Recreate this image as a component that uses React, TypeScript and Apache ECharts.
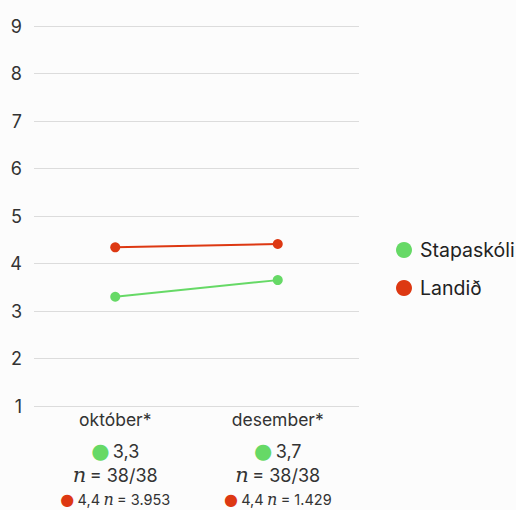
import React, { useEffect, useRef } from "react";
import * as echarts from "echarts";

const categories = ["október*", "desember*"];
const schoolName = "Stapaskóli";
const countryName = "Landið";
const schoolValues = [3.3, 3.65];
const countryValues = [4.34, 4.41];
const schoolLabels = ["3,3", "3,7"];
const schoolN = ["38/38", "38/38"];
const countryLabels = ["4,4", "4,4"];
const countryN = ["3.953", "1.429"];

const GREEN = "#66d966";
const RED = "#dd3812";
const FONT = "Inter, 'Noto Sans', sans-serif";

export default function App() {
  const ref = useRef<HTMLDivElement>(null);
  useEffect(() => {
    if (!ref.current) return;
    const chart = echarts.init(ref.current, undefined, { renderer: "svg" });
    chart.setOption({
      animation: false,
      backgroundColor: "#fcfcfc",
      textStyle: { fontFamily: FONT },
      grid: { left: 34, right: 157, top: 26, bottom: 104, containLabel: false },
      legend: {
        orient: "vertical",
        left: 391,
        top: 235,
        icon: "circle",
        itemWidth: 16,
        itemHeight: 16,
        itemGap: 18,
        textStyle: { fontSize: 19.5, lineHeight: 20, color: "#222", fontFamily: FONT, padding: [0, 0, 0, 3] },
        data: [schoolName, countryName],
      },
      xAxis: {
        type: "category",
        data: categories,
        axisLine: { show: false },
        axisTick: { show: false },
        axisLabel: {
          margin: -7,
          interval: 0,
          formatter: (v: string, i: number) =>
            `{t|${v}}\n{g|●} {v|${schoolLabels[i]}}\n{n|n} {v|= ${schoolN[i]}}\n{r|●} {s|${countryLabels[i]}} {sn|n} {s|= ${countryN[i]}}`,
          rich: {
            t: { fontSize: 17.5, color: "#333", lineHeight: 40, fontFamily: FONT },
            g: { fontSize: 21, color: GREEN, lineHeight: 24, fontFamily: "DejaVu Sans" },
            v: { fontSize: 18, color: "#333", lineHeight: 24, fontFamily: FONT },
            n: { fontSize: 21, color: "#333", lineHeight: 24, fontStyle: "italic", fontFamily: "DejaVu Serif" },
            r: { fontSize: 16, color: RED, lineHeight: 24, fontFamily: "DejaVu Sans" },
            s: { fontSize: 14.5, color: "#333", lineHeight: 24, fontFamily: FONT },
            sn: { fontSize: 16, color: "#333", lineHeight: 24, fontStyle: "italic", fontFamily: "DejaVu Serif" },
          },
        },
      },
      yAxis: {
        type: "value",
        min: 1,
        max: 9,
        interval: 1,
        axisLine: { show: false },
        axisTick: { show: false },
        axisLabel: {
          fontSize: 18,
          color: "#333",
          margin: 12,
          fontFamily: FONT,
          align: "right",
          padding: [0, 0, 6, 0],
        },
        splitLine: { lineStyle: { color: "#dcdcdc", width: 1 } },
      },
      series: [
        {
          name: schoolName,
          type: "line",
          data: schoolValues,
          color: GREEN,
          symbol: "circle",
          symbolSize: 10,
          lineStyle: { width: 2 },
        },
        {
          name: countryName,
          type: "line",
          data: countryValues,
          color: RED,
          symbol: "circle",
          symbolSize: 10,
          lineStyle: { width: 2 },
        },
      ],
    });
    return () => chart.dispose();
  }, []);
  return <div ref={ref} style={{ position: "fixed", left: 0, top: 0, width: 516, height: 510 }} />;
}
